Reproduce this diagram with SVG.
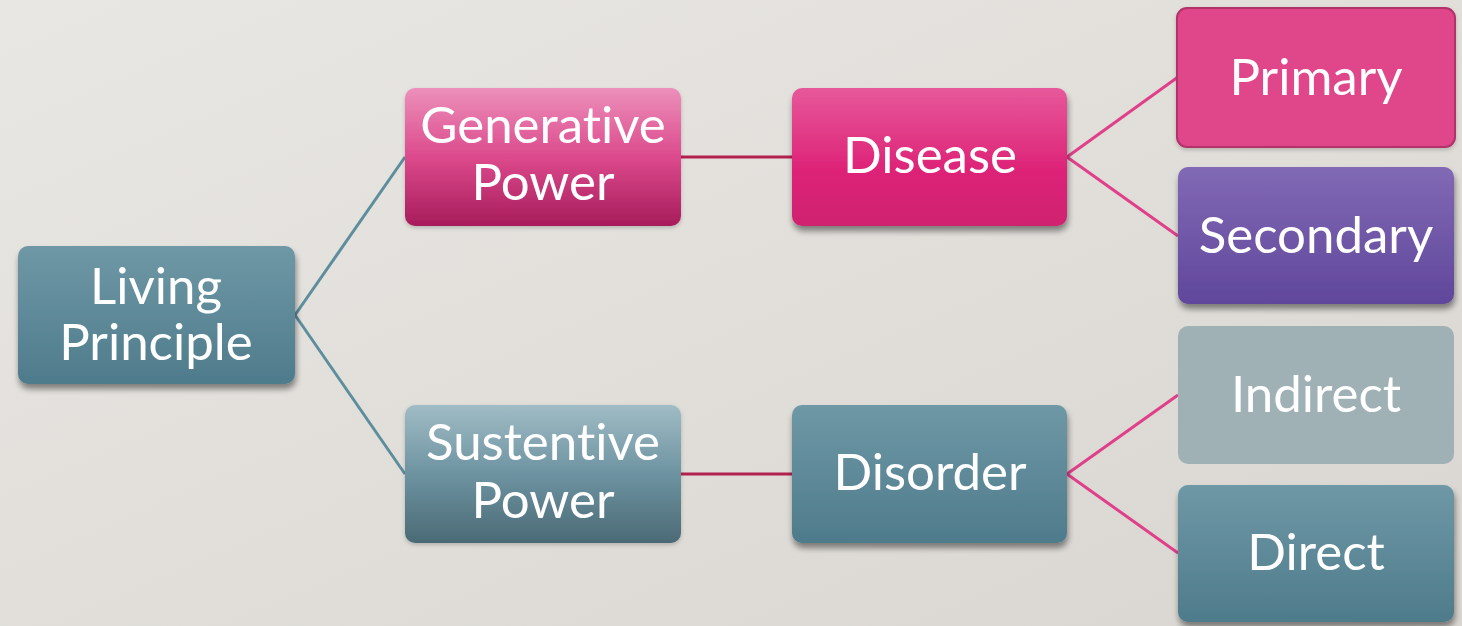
<svg xmlns="http://www.w3.org/2000/svg" width="1462" height="626" viewBox="0 0 1462 626">
<defs>
<linearGradient id="bg" x1="0" y1="0" x2="1" y2="1"><stop offset="0" stop-color="#e9e7e3"/><stop offset="1" stop-color="#d9d6d1"/></linearGradient>
<linearGradient id="teal" x1="0" y1="0" x2="0" y2="1"><stop offset="0" stop-color="#6f98a6"/><stop offset="1" stop-color="#4e7b8b"/></linearGradient>
<linearGradient id="gen" x1="0" y1="0" x2="0" y2="1"><stop offset="0" stop-color="#ec90bb"/><stop offset="0.5" stop-color="#dc4a8c"/><stop offset="1" stop-color="#a71c5b"/></linearGradient>
<linearGradient id="dis" x1="0" y1="0" x2="0" y2="1"><stop offset="0" stop-color="#e7589a"/><stop offset="0.6" stop-color="#dd2377"/><stop offset="1" stop-color="#cf2470"/></linearGradient>
<linearGradient id="sec" x1="0" y1="0" x2="0" y2="1"><stop offset="0" stop-color="#8169b5"/><stop offset="1" stop-color="#60479b"/></linearGradient>
<linearGradient id="sus" x1="0" y1="0" x2="0" y2="1"><stop offset="0" stop-color="#a0bcc5"/><stop offset="0.5" stop-color="#6d93a1"/><stop offset="1" stop-color="#4b6a75"/></linearGradient>
<filter id="sh" x="-10%" y="-10%" width="120%" height="130%"><feGaussianBlur in="SourceAlpha" stdDeviation="3"/><feOffset dx="1" dy="5"/><feComponentTransfer><feFuncA type="linear" slope="0.45"/></feComponentTransfer><feMerge><feMergeNode/><feMergeNode in="SourceGraphic"/></feMerge></filter>
<filter id="sh2" x="-10%" y="-10%" width="120%" height="130%"><feGaussianBlur in="SourceAlpha" stdDeviation="2"/><feOffset dx="0" dy="2"/><feComponentTransfer><feFuncA type="linear" slope="0.2"/></feComponentTransfer><feMerge><feMergeNode/><feMergeNode in="SourceGraphic"/></feMerge></filter>
</defs>
<style>
text{font-family:Lato,"Open Sans","DejaVu Sans",sans-serif;font-size:51px;fill:#ffffff;text-anchor:middle;font-variant-ligatures:none;font-feature-settings:"liga" 0}
.c1{stroke:#5e8e9d;stroke-width:3;fill:none}
.c2{stroke:#b3214f;stroke-width:3;fill:none}
.c3{stroke:#e0408a;stroke-width:3;fill:none}
</style>
<rect width="1462" height="626" fill="url(#bg)"/>
<g id="connectors">
<path class="c1" d="M295 315 L405 157"/>
<path class="c1" d="M295 315 L405 474"/>
<path class="c2" d="M681 157 L792 157"/>
<path class="c2" d="M681 474 L792 474"/>
<path class="c3" d="M1067 157 L1178 77"/>
<path class="c3" d="M1067 157 L1178 236"/>
<path class="c3" d="M1067 474 L1178 395"/>
<path class="c3" d="M1067 474 L1178 553"/>
</g>
<g id="living">
<rect x="18" y="246" width="277" height="138" rx="10" fill="url(#teal)" filter="url(#sh)"/>
<text x="156" y="304">Living</text>
<text x="156" y="360">Principle</text>
</g>
<g id="generative">
<rect x="405" y="88" width="276" height="138" rx="10" fill="url(#gen)" filter="url(#sh2)"/>
<text x="543" y="143">Generative</text>
<text x="543" y="200">Power</text>
</g>
<g id="sustentive">
<rect x="405" y="405" width="276" height="138" rx="10" fill="url(#sus)" filter="url(#sh2)"/>
<text x="543" y="460">Sustentive</text>
<text x="543" y="518">Power</text>
</g>
<g id="disease">
<rect x="792" y="88" width="275" height="138" rx="10" fill="url(#dis)" filter="url(#sh)"/>
<text x="930" y="173">Disease</text>
</g>
<g id="disorder">
<rect x="792" y="405" width="275" height="138" rx="10" fill="url(#teal)" filter="url(#sh)"/>
<text x="930" y="490">Disorder</text>
</g>
<g id="primary">
<rect x="1177" y="8" width="278" height="139" rx="10" fill="#df468a" stroke="#b3306b" stroke-width="2" filter="url(#sh2)"/>
<text x="1316" y="95">Primary</text>
</g>
<g id="secondary">
<rect x="1178" y="167" width="276" height="137" rx="10" fill="url(#sec)" filter="url(#sh)"/>
<text x="1316" y="253">Secondary</text>
</g>
<g id="indirect">
<rect x="1178" y="326" width="276" height="138" rx="10" fill="#9fb1b5"/>
<text x="1316" y="412">Indirect</text>
</g>
<g id="direct">
<rect x="1178" y="485" width="276" height="137" rx="10" fill="url(#teal)" filter="url(#sh)"/>
<text x="1316" y="570">Direct</text>
</g>
</svg>
